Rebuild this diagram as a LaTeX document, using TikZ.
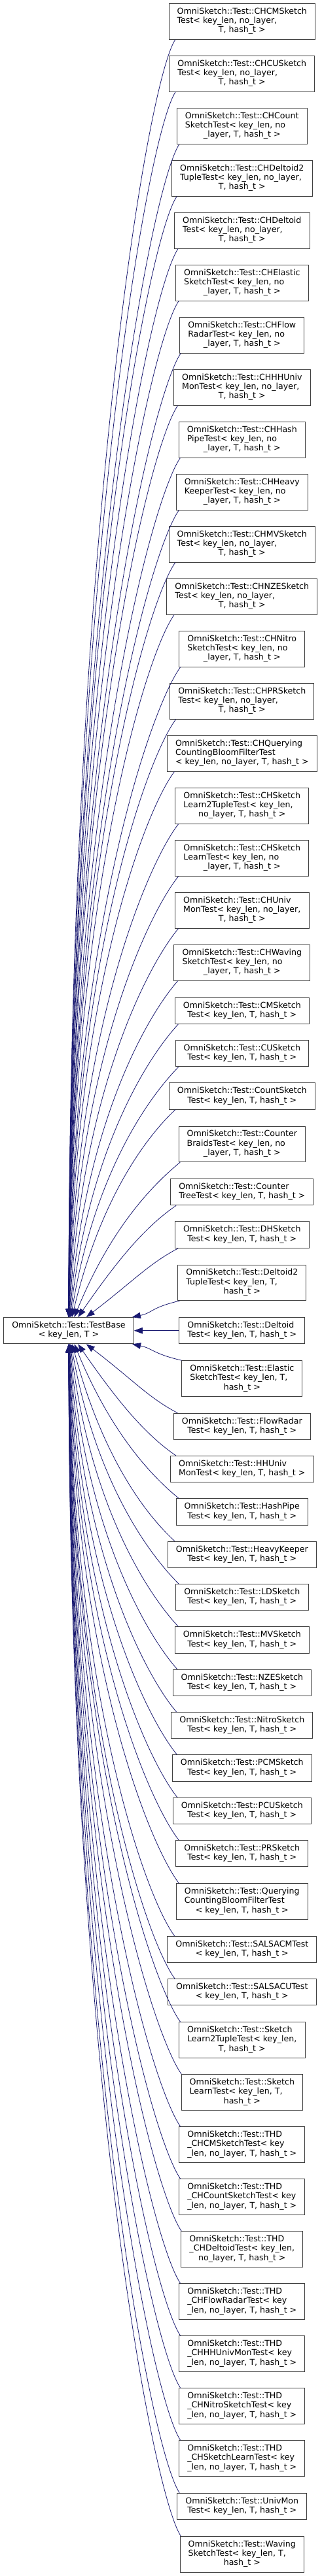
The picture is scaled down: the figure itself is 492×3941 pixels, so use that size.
\documentclass[tikz,border=0pt]{standalone}
\usepackage{fontspec}
\setmainfont{DejaVu Sans}
\usetikzlibrary{arrows.meta,calc}
\definecolor{edgeblue}{HTML}{191970}
\definecolor{boxgray}{HTML}{404040}
\newcommand\ThreeL[3]{\begin{tabular}{@{}l@{}}#1\\#2\\\multicolumn{1}{@{}c@{}}{#3}\end{tabular}}
\newcommand\TwoL[2]{\begin{tabular}{@{}l@{}}#1\\\multicolumn{1}{@{}c@{}}{#2}\end{tabular}}
\newcommand\edgeup[1]{%
  \draw[inh] let \p0=(base.center), \p1=(#1.south west), \n1={\y1-\y0} in
    (base) .. controls ({\x0+150*exp(-\n1/300)},{\y0+0.6*\n1}) and ({(\x1+276)/2+1-45},{\y1-80/(1+300/\n1)}) .. ({(\x1+276)/2+1},\y1);}
\newcommand\edgedown[1]{%
  \draw[inh] let \p0=(base.center), \p1=(#1.north west), \n1={\y0-\y1} in
    (base) .. controls ({\x0+150*exp(-\n1/300)},{\y0-0.6*\n1}) and ({(\x1+276)/2+1-45},{\y1+80/(1+300/\n1)}) .. ({(\x1+276)/2+1},\y1);}
\tikzset{
  cls/.style={draw=boxgray, fill=white, line width=0.9pt, inner xsep=12.6pt, inner ysep=5.85pt,
    font=\fontsize{12.6}{14.3}\selectfont},
  inh/.style={draw=edgeblue, line width=0.8pt, {Triangle[length=13pt,width=9.5pt,fill=edgeblue]}-}
}
\begin{document}
\begin{tikzpicture}[x=1pt,y=1pt]
\useasboundingbox (0,0) rectangle (492,-3941);
\fill[white] (0,0) rectangle (492,-3941);
\def\cx{369.8}
\node[cls] (base) at (105,-2035.7) {\TwoL{OmniSketch::Test::TestBase}{< key\_len, T >}};
\node[cls] (n1) at (\cx,-32.8) {\ThreeL{OmniSketch::Test::CHCMSketch}{Test< key\_len, no\_layer,}{T, hash\_t >}};
\node[cls] (n2) at (\cx,-112.8) {\ThreeL{OmniSketch::Test::CHCUSketch}{Test< key\_len, no\_layer,}{T, hash\_t >}};
\node[cls] (n3) at (\cx,-192.8) {\ThreeL{OmniSketch::Test::CHCount}{SketchTest< key\_len, no}{\_layer, T, hash\_t >}};
\node[cls] (n4) at (\cx,-272.8) {\ThreeL{OmniSketch::Test::CHDeltoid2}{TupleTest< key\_len, no\_layer,}{T, hash\_t >}};
\node[cls] (n5) at (\cx,-352.8) {\ThreeL{OmniSketch::Test::CHDeltoid}{Test< key\_len, no\_layer,}{T, hash\_t >}};
\node[cls] (n6) at (\cx,-432.8) {\ThreeL{OmniSketch::Test::CHElastic}{SketchTest< key\_len, no}{\_layer, T, hash\_t >}};
\node[cls] (n7) at (\cx,-512.8) {\ThreeL{OmniSketch::Test::CHFlow}{RadarTest< key\_len, no}{\_layer, T, hash\_t >}};
\node[cls] (n8) at (\cx,-592.8) {\ThreeL{OmniSketch::Test::CHHHUniv}{MonTest< key\_len, no\_layer,}{T, hash\_t >}};
\node[cls] (n9) at (\cx,-672.8) {\ThreeL{OmniSketch::Test::CHHash}{PipeTest< key\_len, no}{\_layer, T, hash\_t >}};
\node[cls] (n10) at (\cx,-752.8) {\ThreeL{OmniSketch::Test::CHHeavy}{KeeperTest< key\_len, no}{\_layer, T, hash\_t >}};
\node[cls] (n11) at (\cx,-832.8) {\ThreeL{OmniSketch::Test::CHMVSketch}{Test< key\_len, no\_layer,}{T, hash\_t >}};
\node[cls] (n12) at (\cx,-912.8) {\ThreeL{OmniSketch::Test::CHNZESketch}{Test< key\_len, no\_layer,}{T, hash\_t >}};
\node[cls] (n13) at (\cx,-992.8) {\ThreeL{OmniSketch::Test::CHNitro}{SketchTest< key\_len, no}{\_layer, T, hash\_t >}};
\node[cls] (n14) at (\cx,-1072.8) {\ThreeL{OmniSketch::Test::CHPRSketch}{Test< key\_len, no\_layer,}{T, hash\_t >}};
\node[cls] (n15) at (\cx,-1152.8) {\ThreeL{OmniSketch::Test::CHQuerying}{CountingBloomFilterTest}{< key\_len, no\_layer, T, hash\_t >}};
\node[cls] (n16) at (\cx,-1232.8) {\ThreeL{OmniSketch::Test::CHSketch}{Learn2TupleTest< key\_len,}{no\_layer, T, hash\_t >}};
\node[cls] (n17) at (\cx,-1312.8) {\ThreeL{OmniSketch::Test::CHSketch}{LearnTest< key\_len, no}{\_layer, T, hash\_t >}};
\node[cls] (n18) at (\cx,-1392.8) {\ThreeL{OmniSketch::Test::CHUniv}{MonTest< key\_len, no\_layer,}{T, hash\_t >}};
\node[cls] (n19) at (\cx,-1472.8) {\ThreeL{OmniSketch::Test::CHWaving}{SketchTest< key\_len, no}{\_layer, T, hash\_t >}};
\node[cls] (n20) at (\cx,-1546.3) {\TwoL{OmniSketch::Test::CMSketch}{Test< key\_len, T, hash\_t >}};
\node[cls] (n21) at (\cx,-1611.7) {\TwoL{OmniSketch::Test::CUSketch}{Test< key\_len, T, hash\_t >}};
\node[cls] (n22) at (\cx,-1677) {\TwoL{OmniSketch::Test::CountSketch}{Test< key\_len, T, hash\_t >}};
\node[cls] (n23) at (\cx,-1750.3) {\ThreeL{OmniSketch::Test::Counter}{BraidsTest< key\_len, no}{\_layer, T, hash\_t >}};
\node[cls] (n24) at (\cx,-1823.7) {\TwoL{OmniSketch::Test::Counter}{TreeTest< key\_len, T, hash\_t >}};
\node[cls] (n25) at (\cx,-1889) {\TwoL{OmniSketch::Test::DHSketch}{Test< key\_len, T, hash\_t >}};
\node[cls] (n26) at (\cx,-1962.3) {\ThreeL{OmniSketch::Test::Deltoid2}{TupleTest< key\_len, T,}{hash\_t >}};
\node[cls] (n27) at (\cx,-2035.7) {\TwoL{OmniSketch::Test::Deltoid}{Test< key\_len, T, hash\_t >}};
\node[cls] (n28) at (\cx,-2109) {\ThreeL{OmniSketch::Test::Elastic}{SketchTest< key\_len, T,}{hash\_t >}};
\node[cls] (n29) at (\cx,-2182.3) {\TwoL{OmniSketch::Test::FlowRadar}{Test< key\_len, T, hash\_t >}};
\node[cls] (n30) at (\cx,-2247.7) {\TwoL{OmniSketch::Test::HHUniv}{MonTest< key\_len, T, hash\_t >}};
\node[cls] (n31) at (\cx,-2313) {\TwoL{OmniSketch::Test::HashPipe}{Test< key\_len, T, hash\_t >}};
\node[cls] (n32) at (\cx,-2378.3) {\TwoL{OmniSketch::Test::HeavyKeeper}{Test< key\_len, T, hash\_t >}};
\node[cls] (n33) at (\cx,-2443.7) {\TwoL{OmniSketch::Test::LDSketch}{Test< key\_len, T, hash\_t >}};
\node[cls] (n34) at (\cx,-2509) {\TwoL{OmniSketch::Test::MVSketch}{Test< key\_len, T, hash\_t >}};
\node[cls] (n35) at (\cx,-2574.3) {\TwoL{OmniSketch::Test::NZESketch}{Test< key\_len, T, hash\_t >}};
\node[cls] (n36) at (\cx,-2639.7) {\TwoL{OmniSketch::Test::NitroSketch}{Test< key\_len, T, hash\_t >}};
\node[cls] (n37) at (\cx,-2705) {\TwoL{OmniSketch::Test::PCMSketch}{Test< key\_len, T, hash\_t >}};
\node[cls] (n38) at (\cx,-2770.3) {\TwoL{OmniSketch::Test::PCUSketch}{Test< key\_len, T, hash\_t >}};
\node[cls] (n39) at (\cx,-2835.7) {\TwoL{OmniSketch::Test::PRSketch}{Test< key\_len, T, hash\_t >}};
\node[cls] (n40) at (\cx,-2909) {\ThreeL{OmniSketch::Test::Querying}{CountingBloomFilterTest}{< key\_len, T, hash\_t >}};
\node[cls] (n41) at (\cx,-2982.3) {\TwoL{OmniSketch::Test::SALSACMTest}{< key\_len, T, hash\_t >}};
\node[cls] (n42) at (\cx,-3047.7) {\TwoL{OmniSketch::Test::SALSACUTest}{< key\_len, T, hash\_t >}};
\node[cls] (n43) at (\cx,-3121) {\ThreeL{OmniSketch::Test::Sketch}{Learn2TupleTest< key\_len,}{T, hash\_t >}};
\node[cls] (n44) at (\cx,-3201) {\ThreeL{OmniSketch::Test::Sketch}{LearnTest< key\_len, T,}{hash\_t >}};
\node[cls] (n45) at (\cx,-3281) {\ThreeL{OmniSketch::Test::THD}{\_CHCMSketchTest< key}{\_len, no\_layer, T, hash\_t >}};
\node[cls] (n46) at (\cx,-3361) {\ThreeL{OmniSketch::Test::THD}{\_CHCountSketchTest< key}{\_len, no\_layer, T, hash\_t >}};
\node[cls] (n47) at (\cx,-3441) {\ThreeL{OmniSketch::Test::THD}{\_CHDeltoidTest< key\_len,}{no\_layer, T, hash\_t >}};
\node[cls] (n48) at (\cx,-3521) {\ThreeL{OmniSketch::Test::THD}{\_CHFlowRadarTest< key}{\_len, no\_layer, T, hash\_t >}};
\node[cls] (n49) at (\cx,-3601) {\ThreeL{OmniSketch::Test::THD}{\_CHHHUnivMonTest< key}{\_len, no\_layer, T, hash\_t >}};
\node[cls] (n50) at (\cx,-3681) {\ThreeL{OmniSketch::Test::THD}{\_CHNitroSketchTest< key}{\_len, no\_layer, T, hash\_t >}};
\node[cls] (n51) at (\cx,-3761) {\ThreeL{OmniSketch::Test::THD}{\_CHSketchLearnTest< key}{\_len, no\_layer, T, hash\_t >}};
\node[cls] (n52) at (\cx,-3834.3) {\TwoL{OmniSketch::Test::UnivMon}{Test< key\_len, T, hash\_t >}};
\node[cls] (n53) at (\cx,-3907.7) {\ThreeL{OmniSketch::Test::Waving}{SketchTest< key\_len, T,}{hash\_t >}};
\foreach \i in {1,...,26} {\edgeup{n\i}}
\draw[inh] (base) -- (n27);
\foreach \i in {28,...,53} {\edgedown{n\i}}
\end{tikzpicture}
\end{document}
